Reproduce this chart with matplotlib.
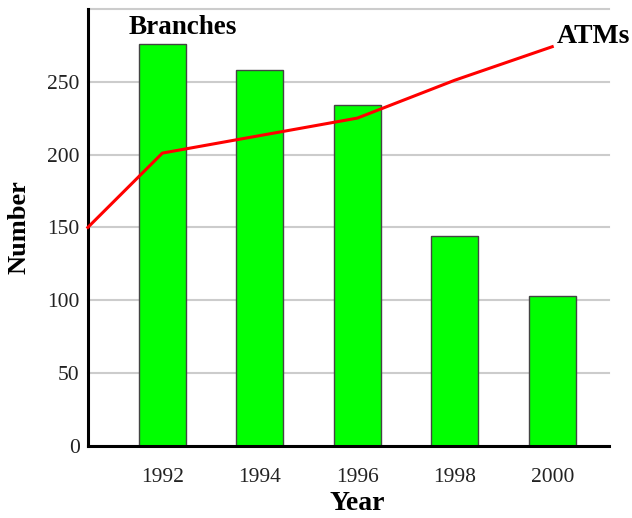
import matplotlib
matplotlib.use("Agg")
import matplotlib.pyplot as plt

# Data ---------------------------------------
years = [1992, 1994, 1996, 1998, 2000]
branches = [276, 258, 234, 144, 103]
atm_years = [1990.47, 1992, 1994, 1996, 1998, 2000]
atms = [150, 201, 213, 225, 251, 274]
y_ticks = [0, 50, 100, 150, 200, 250, 300]
y_labels = ["0", "50", "100", "150", "200", "250", ""]

plt.rcParams["font.family"] = ["Liberation Serif", "DejaVu Serif"]

fig = plt.figure(figsize=(6.32, 5.18), dpi=100)
ax = fig.add_axes([0.139, 0.139, 0.825, 0.844])

ax.set_axisbelow(True)
ax.yaxis.grid(True, color="#cccccc", linewidth=1.5, clip_on=False)
ax.bar(years, branches, width=0.97, color="#00ff00", edgecolor="#444444", linewidth=1.0, zorder=2)
ax.plot(atm_years, atms, color="#ff0000", linewidth=2.2, zorder=3, clip_on=False)

ax.set_xlim(1990.47, 2001.17)
ax.set_ylim(0, 300)
ax.set_xticks(years)
ax.set_yticks(y_ticks, labels=y_labels)
ax.tick_params(length=0, labelsize=15.5, colors="#222222")
ax.tick_params(axis="x", pad=16)
ax.tick_params(axis="y", pad=6)

for s in ["top", "right"]:
    ax.spines[s].set_visible(False)
for s in ["left", "bottom"]:
    ax.spines[s].set_linewidth(2.2)
    ax.spines[s].set_color("black")

ax.set_xlabel("Year", fontsize=20, fontweight="bold", labelpad=3, x=0.517)
ax.set_ylabel("Number", fontsize=19, fontweight="bold", labelpad=12)

ax.text(1991.31, 287, "Branches", fontsize=19.5, fontweight="bold", va="center", ha="left")
ax.text(2000.09, 281, "ATMs", fontsize=20, fontweight="bold", va="center", ha="left", clip_on=False)

fig.savefig("out.png", dpi=100)
